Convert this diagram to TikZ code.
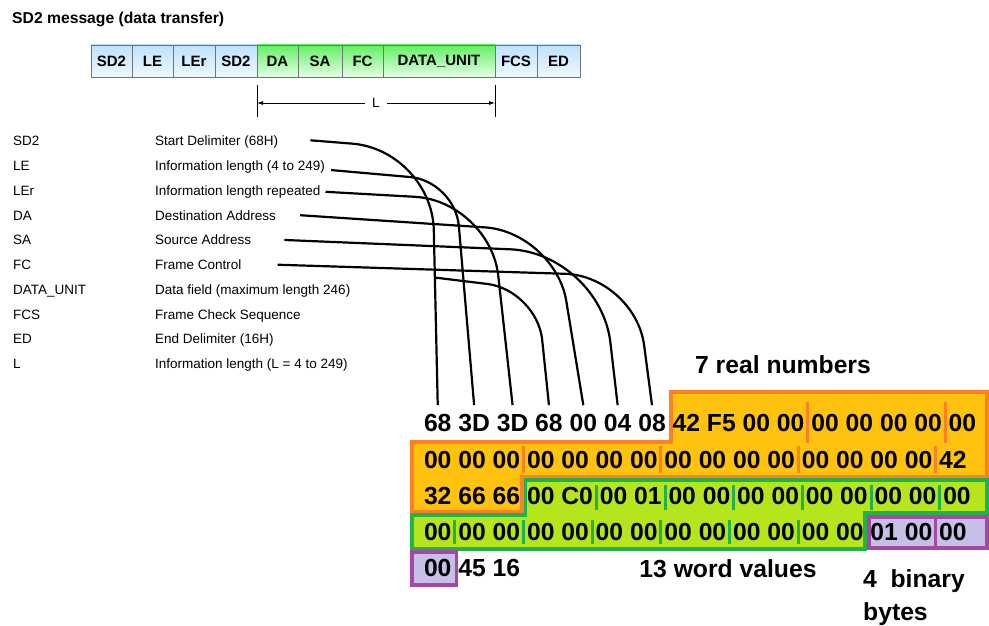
\documentclass[tikz,border=0pt]{standalone}
\usepackage{fontspec}
\setmainfont{Liberation Sans}
\usetikzlibrary{positioning,calc,arrows.meta,backgrounds}

\definecolor{realfill}{RGB}{255,194,14}
\definecolor{realline}{RGB}{255,127,39}
\definecolor{wordfill}{RGB}{181,230,29}
\definecolor{wordline}{RGB}{34,177,76}
\definecolor{binfill}{RGB}{200,191,231}
\definecolor{binline}{RGB}{163,73,164}
\definecolor{fieldtop}{RGB}{190,226,250}
\definecolor{fieldbot}{RGB}{238,248,255}
\definecolor{datatop}{RGB}{100,238,100}
\definecolor{databot}{RGB}{228,255,228}

\newcommand{\bytefont}{\fontsize{24.7}{33}\selectfont\bfseries}
\newcommand{\keyfont}{\fontsize{13.5}{16}\selectfont}
\newcommand{\headfont}{\fontsize{15}{18}\selectfont\bfseries}
\newcommand{\bytegap}{6.87pt}

\tikzset{
  field/.style={draw=black!55, line width=0.8pt, top color=fieldtop,
    bottom color=fieldbot, minimum height=32pt, inner sep=0pt,
    outer sep=0pt, font=\headfont},
  datafield/.style={field, top color=datatop, bottom color=databot},
  keytext/.style={anchor=base west, inner sep=0pt, font=\keyfont},
  hexbyte/.style={inner sep=0pt, outer sep=0pt, text height=17.7pt,
    text depth=0pt, font=\bytefont},
  blocklabel/.style={inner sep=0pt, font=\bytefont},
  wire/.style={line width=2.2pt},
  realblock/.style={fill=realfill, draw=realline, line width=3.5pt},
  wordblock/.style={fill=wordfill, draw=wordline, line width=3.5pt},
  binblock/.style={fill=binfill, draw=binline, line width=3.5pt},
  realsep/.style={draw=realline, line width=3pt},
  wordsep/.style={draw=wordline, line width=3pt},
}

\begin{document}
\begin{tikzpicture}[x=1pt, y=-1pt]
  \useasboundingbox (0,0) rectangle (989,626);

  % Title
  \node[anchor=base west, inner sep=0pt, font=\fontsize{15.7}{19}\selectfont\bfseries]
    (title) at (12,24) {SD2 message (data transfer)};

  % Frame fields
  \node[field, minimum width=41pt] (sd2a) at (111.5,61) {SD2};
  \node[field, minimum width=41pt, right=0pt of sd2a] (le) {LE};
  \node[field, minimum width=42pt, right=0pt of le] (ler) {LEr};
  \node[field, minimum width=42pt, right=0pt of ler] (sd2b) {SD2};
  \node[datafield, minimum width=41pt, right=0pt of sd2b] (da) {DA};
  \node[datafield, minimum width=44pt, right=0pt of da] (sa) {SA};
  \node[datafield, minimum width=41pt, right=0pt of sa] (fc) {FC};
  \node[datafield, minimum width=112pt, right=0pt of fc] (du) {DATA\_UNIT};
  \node[field, minimum width=42pt, right=0pt of du] (fcs) {FCS};
  \node[field, minimum width=43pt, right=0pt of fcs] (ed) {ED};

  % Length L
  \draw[line width=0.9pt] ([yshift=-8pt]da.south west) -- ([yshift=-40pt]da.south west);
  \draw[line width=0.9pt] ([yshift=-8pt]du.south east) -- ([yshift=-40pt]du.south east);
  \draw[line width=0.8pt, {Latex[length=6pt,width=4pt]}-{Latex[length=6pt,width=4pt]}]
    ([yshift=-26pt]da.south west) -- node[fill=white, inner xsep=7pt, inner ysep=1pt,
    font=\keyfont] (lenlabel) {L} ([yshift=-26pt]du.south east);

  % Legend
  \foreach \abbr/\desc [count=\i] in {SD2/Start Delimiter (68H),
      LE/Information length (4 to 249), LEr/Information length repeated,
      DA/Destination Address, SA/Source Address, FC/Frame Control,
      DATA\_UNIT/Data field (maximum length 246), FCS/Frame Check Sequence,
      ED/End Delimiter (16H), L/Information length (L = 4 to 249)} {
    \node[keytext] (key\i) at (13,{145.8+24.75*(\i-1)}) {\abbr};
    \node[keytext] (desc\i) at (155,{145.8+24.75*(\i-1)}) {\desc};
  }

  % Bytes of the telegram
  \coordinate (r0c0) at (417.13,423);
  \coordinate (r1c0) at (417.13,460);
  \coordinate (r2c0) at (417.13,496);
  \coordinate (r3c0) at (417.13,532);
  \coordinate (r4c0) at (417.13,568);
  \foreach \b [count=\i, remember=\i as \j (initially 0)] in
      {68,3D,3D,68,00,04,08,42,F5,00,00,00,00,00,00,00}
    \node[hexbyte, right=\bytegap of r0c\j] (r0c\i) {\b};
  \foreach \b [count=\i, remember=\i as \j (initially 0)] in
      {00,00,00,00,00,00,00,00,00,00,00,00,00,00,00,42}
    \node[hexbyte, right=\bytegap of r1c\j] (r1c\i) {\b};
  \foreach \b [count=\i, remember=\i as \j (initially 0)] in
      {32,66,66,00,C0,00,01,00,00,00,00,00,00,00,00,00}
    \node[hexbyte, right=\bytegap of r2c\j] (r2c\i) {\b};
  \foreach \b [count=\i, remember=\i as \j (initially 0)] in
      {00,00,00,00,00,00,00,00,00,00,00,00,00,01,00,00}
    \node[hexbyte, right=\bytegap of r3c\j] (r3c\i) {\b};
  \foreach \b [count=\i, remember=\i as \j (initially 0)] in {00,45,16}
    \node[hexbyte, right=\bytegap of r4c\j] (r4c\i) {\b};

  % Real, word and binary blocks
  \coordinate (realstart) at ($(r0c7.east)!.5!(r0c8.west)+(2,0)$);
  \coordinate (realend) at ($(r2c3.east)!.5!(r2c4.west)+(-1.7,0)$);
  \coordinate (wordstart) at ($(r2c3.east)!.5!(r2c4.west)+(1.7,0)$);
  \coordinate (wordend) at ($(r3c13.east)!.5!(r3c14.west)+(-2,0)$);
  \coordinate (binstart) at ($(r3c13.east)!.5!(r3c14.west)+(2,0)$);
  \coordinate (binsplit) at ($(r3c15.east)!.5!(r3c16.west)$);
  \coordinate (binend) at ($(r4c1.east)!.5!(r4c2.west)+(1.5,0)$);
  \begin{scope}[on background layer]
    \filldraw[realblock] (realstart |- 0,392) -- (987,392) -- (987,477)
      -- (realend |- 0,477) -- (realend |- 0,512) -- (412,512) -- (412,442)
      -- (realstart |- 0,442) -- cycle;
    \filldraw[wordblock] (wordstart |- 0,480) -- (987,480) -- (987,513)
      -- (wordend |- 0,513) -- (wordend |- 0,549) -- (412,549) -- (412,515)
      -- (wordstart |- 0,515) -- cycle;
    \filldraw[binblock] (binstart |- 0,517) rectangle (987,548);
    \draw[binblock, fill=none] (binsplit |- 0,517) -- (binsplit |- 0,548);
    \filldraw[binblock] (412,552) rectangle (binend |- 0,585);
  \end{scope}

  % Group separators
  \foreach \k in {11,15}
    \draw[realsep] ([xshift=3.43pt]r0c\k.east) ++(0,-21) -- ++(0,41);
  \foreach \k in {3,7,11,15}
    \draw[realsep] ([xshift=3.43pt]r1c\k.east) ++(0,-14) -- ++(0,27);
  \foreach \k in {5,7,9,11,13,15}
    \draw[wordsep] ([xshift=3.43pt]r2c\k.east) ++(0,-11) -- ++(0,25);
  \foreach \k in {1,3,5,7,9,11}
    \draw[wordsep] ([xshift=3.43pt]r3c\k.east) ++(0,-12) -- ++(0,24);

  % Lines from the legend down to the header bytes
  \draw[wire, rounded corners=80pt] ([xshift=32pt,yshift=2pt]desc1.east) -- (432,150)
    -- coordinate[pos=.5] (sdfork) ([yshift=9pt]r0c1.north);
  \draw[wire, rounded corners=45pt] ([xshift=6pt,yshift=-3pt]desc2.east) -- (455,181)
    -- ([yshift=9pt]r0c2.north);
  \draw[wire, rounded corners=75pt] ([xshift=5pt]desc3.east) -- (490,201)
    -- ([yshift=9pt]r0c3.north);
  \draw[wire, rounded corners=50pt] (sdfork) -- (537,290) -- ([yshift=9pt]r0c4.north);
  \draw[wire, rounded corners=70pt] ([xshift=24pt]desc4.east) -- (555,232)
    -- ([yshift=9pt]r0c5.north);
  \draw[wire, rounded corners=90pt] ([xshift=33pt]desc5.east) -- (600,253)
    -- ([yshift=9pt]r0c6.north);
  \draw[wire, rounded corners=70pt] ([xshift=36pt]desc6.east) -- (635,276)
    -- ([yshift=9pt]r0c7.north);

  % Block captions
  \node[blocklabel] (realcap) at (783,365) {7 real numbers};
  \node[blocklabel] (wordcap) at (728,569) {13 word values};
  \node[blocklabel, anchor=north west, align=left] (bincap) at (863,569)
    {4~ binary\\bytes};
\end{tikzpicture}
\end{document}
